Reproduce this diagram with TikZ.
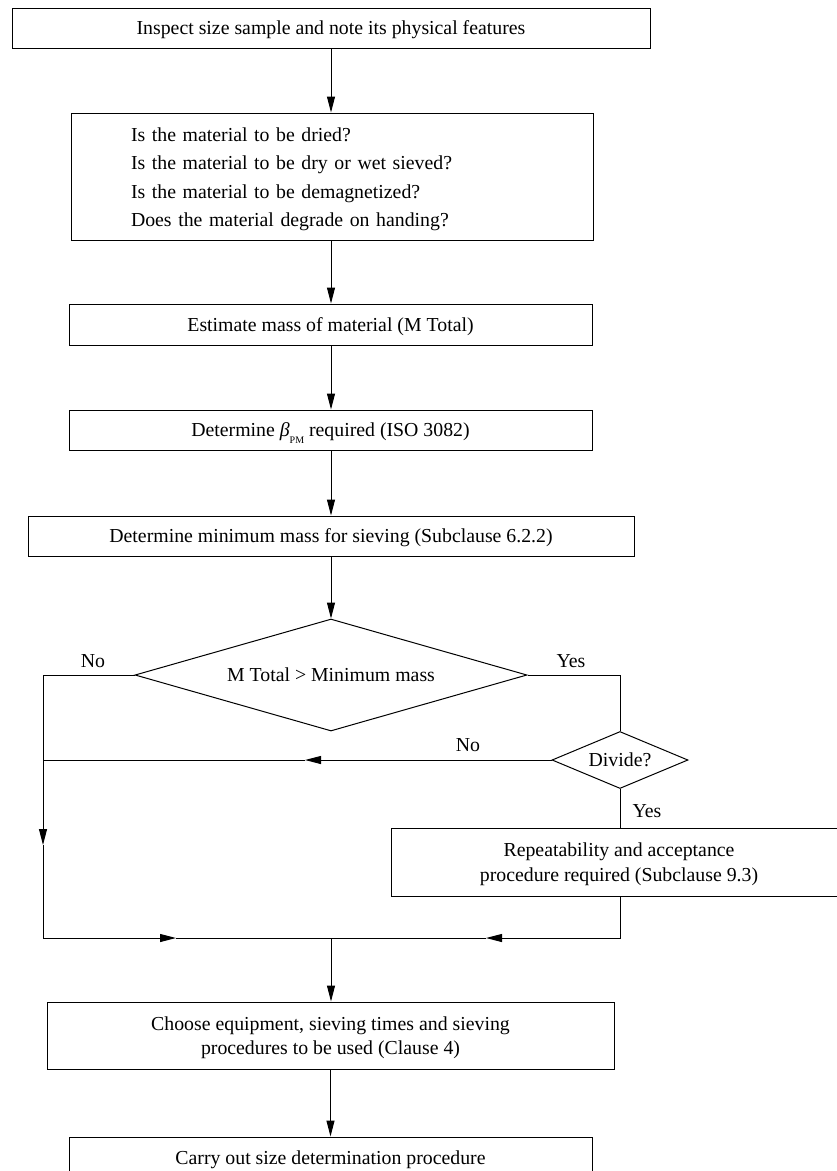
\documentclass[tikz,border=0pt]{standalone}
\usepackage{fontspec}
\setmainfont{Liberation Serif}
\usetikzlibrary{shapes.geometric,arrows.meta}
\begin{document}
\begin{tikzpicture}[x=1pt,y=-1pt,
  font=\fontsize{19.8}{24.5}\selectfont,
  box/.style={draw,line width=1pt,inner sep=0pt,align=center},
  low/.style={text depth=0pt},
  dia/.style={draw,diamond,line width=1pt,inner sep=0pt},
  line/.style={line width=1pt},
  arr/.style={line width=1pt,-{Triangle[length=16pt,width=8pt]}},
  lab/.style={inner sep=0pt}]
\useasboundingbox (0,0) rectangle (837,1171);
\node[box,low,minimum width=638pt,minimum height=40pt] (b1) at (331,28) {Inspect size sample and note its physical features};
\node[box,minimum width=522pt,minimum height=127pt,text width=402pt,align=left,inner xsep=60pt,text height=19.5pt,font=\fontsize{19.8}{28.5}\selectfont] (b2) at (332,176.5) {Is the material to be dried?\\Is the material to be dry or wet sieved?\\Is the material to be demagnetized?\\Does the material degrade on handing?};
\node[box,low,minimum width=523pt,minimum height=41pt] (b3) at (330.5,324.5) {Estimate mass of material (M Total)};
\node[box,low,minimum width=523pt,minimum height=40pt] (b4) at (330.5,430) {Determine {\itshape β}\raisebox{-7pt}[0pt][0pt]{\fontsize{10}{10}\selectfont PM} required (ISO 3082)};
\node[box,low,minimum width=606pt,minimum height=40pt] (b5) at (331,536) {Determine minimum mass for sieving (Subclause 6.2.2)};
\node[dia,minimum width=392pt,minimum height=112pt,aspect=3.5] (d1) at (331,675) {M Total > Minimum mass};
\node[dia,minimum width=136pt,minimum height=57pt,aspect=2.4] (d2) at (620,760) {Divide?};
\node[box,low,minimum width=456pt,minimum height=68pt] (b6) at (619,862) {Repeatability and acceptance\\procedure required (Subclause 9.3)};
\node[box,low,minimum width=567pt,minimum height=67pt] (b7) at (330.5,1035.5) {Choose equipment, sieving times and sieving\\procedures to be used (Clause 4)};
\node[box,low,minimum width=523pt,minimum height=41pt] (b8) at (330.5,1157.5) {Carry out size determination procedure};
\node[lab] (no1) at (93,661) {No};
\node[lab] (yes1) at (571,661) {Yes};
\node[lab] (no2) at (468,745) {No};
\node[lab] (yes2) at (647,811) {Yes};
\coordinate (tl) at (43,675);
\coordinate (dl) at (43,760);
\coordinate (la) at (43,845);
\coordinate (bl) at (43,938);
\coordinate (tr) at (620,675);
\coordinate (br) at (620,938);
\coordinate (j) at (331,938);
\coordinate (na) at (305,760);
\coordinate (ba1) at (176,938);
\coordinate (ba2) at (486,938);
\draw[arr] (b1.south) -- (b1.south |- b2.north);
\draw[arr] (b1.south |- b2.south) -- (b1.south |- b3.north);
\draw[arr] (b1.south |- b3.south) -- (b1.south |- b4.north);
\draw[arr] (b1.south |- b4.south) -- (b1.south |- b5.north);
\draw[arr] (b5.south) -- (d1.north);
\draw[arr] (d1.west) -- (tl) -- (la);
\draw[arr] (la) -- (bl) -- (ba1);
\draw[line] (ba1) -- (j);
\draw[arr] (d2.west) -- (na);
\draw[line] (na) -- (dl);
\draw[line] (d1.east) -- (tr) -- (d2.north);
\draw[line] (d2.south) -- (d2.south |- b6.north);
\draw[arr] (d2.south |- b6.south) -- (br) -- (ba2);
\draw[line] (ba2) -- (j);
\draw[arr] (j) -- (j |- b7.north);
\draw[arr] (b7.south) -- (b7.south |- b8.north);
\end{tikzpicture}
\end{document}
